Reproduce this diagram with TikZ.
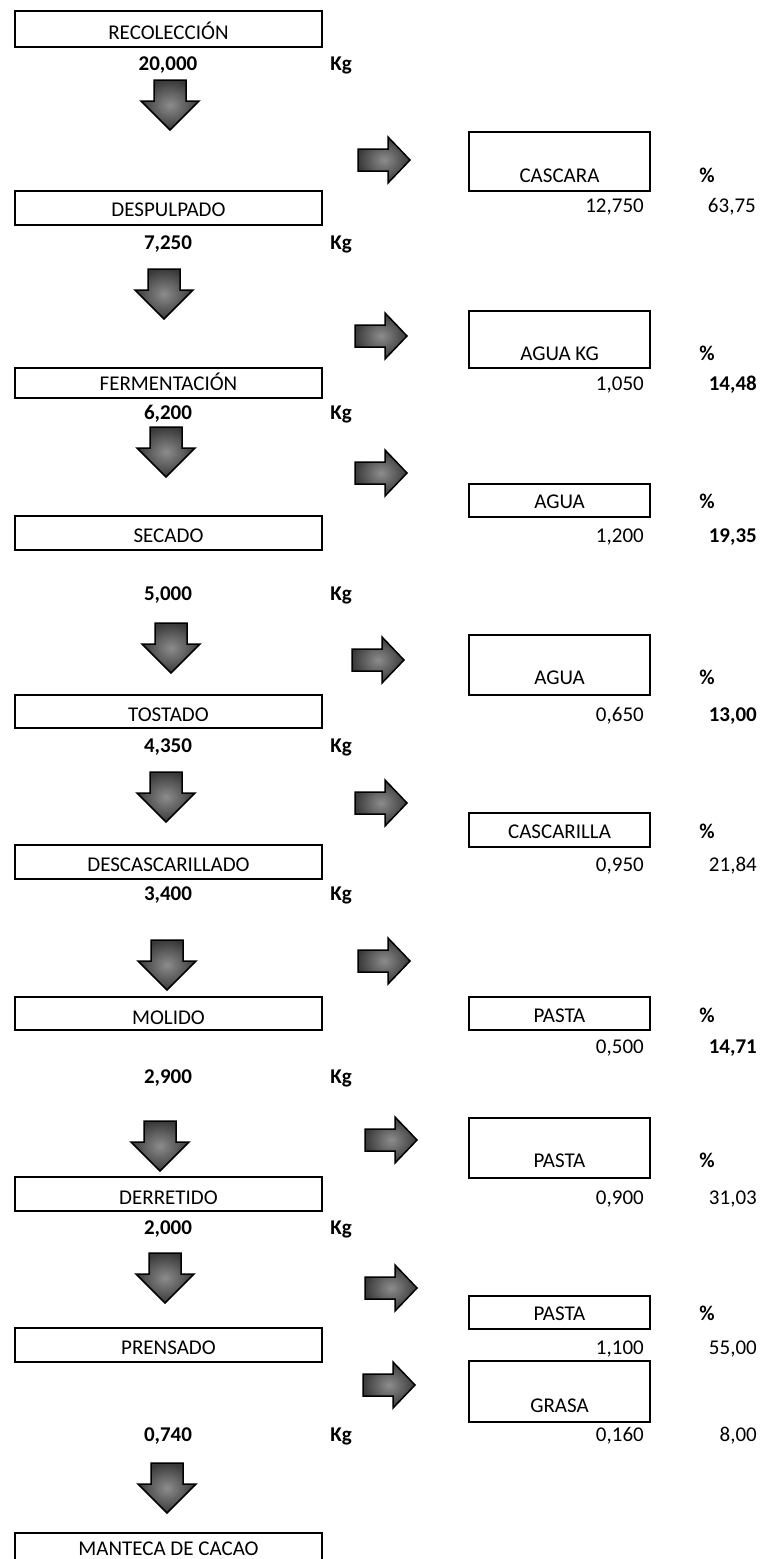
\documentclass[tikz,border=0pt]{standalone}
\usepackage{fontspec}
\setmainfont{Carlito}
\tikzset{
  stage/.style={draw=black, line width=1.6pt, inner sep=0pt, outer sep=0pt, minimum width=307pt},
  outbox/.style={draw=black, line width=1.6pt, inner sep=0pt, outer sep=0pt, minimum width=181pt},
  lbl/.style={anchor=base, inner sep=0pt, font=\fontsize{21}{25}\selectfont},
  blbl/.style={lbl, font=\fontsize{21}{25}\selectfont\bfseries},
  num/.style={anchor=base east, inner sep=0pt, font=\fontsize{21}{25}\selectfont},
  bnum/.style={num, font=\fontsize{21}{25}\selectfont\bfseries},
  blockarrow/.style={draw=black, line width=1.5pt, line join=miter, shading=radial,
                     inner color=gray!90, outer color=gray!45!black}
}
% block arrow pointing down: centre x, top y
\newcommand\downblock[2]{%
  \path[blockarrow] (#1-16,#2) -- (#1+16,#2) -- (#1+16,#2+21) -- (#1+29,#2+21)
    -- (#1,#2+50) -- (#1-29,#2+21) -- (#1-16,#2+21) -- cycle;}
% block arrow pointing right: left x, centre y
\newcommand\rightblock[2]{%
  \path[blockarrow] (#1,#2-11) -- (#1+30,#2-11) -- (#1+30,#2-23) -- (#1+52,#2)
    -- (#1+30,#2+23) -- (#1+30,#2+11) -- (#1,#2+11) -- cycle;}
\begin{document}
\begin{tikzpicture}[x=1pt, y=-1pt]
\useasboundingbox (0,0) rectangle (760,1559);

% ---- process stages (left column) ----
\node[stage, minimum height=36pt] (recol) at (168.5,29) {};
\node[lbl] (trecol) at (168.5,39) {RECOLECCIÓN};
\node[stage, minimum height=34pt] (despul) at (168.5,208) {};
\node[lbl] (tdespul) at (168.5,216) {DESPULPADO};
\node[stage, minimum height=30pt] (ferm) at (168.5,383) {};
\node[lbl] (tferm) at (168.5,390) {FERMENTACIÓN};
\node[stage, minimum height=34pt] (secado) at (168.5,533) {};
\node[lbl] (tsecado) at (168.5,542) {SECADO};
\node[stage, minimum height=33pt] (tostado) at (168.5,711.5) {};
\node[lbl] (ttostado) at (168.5,721) {TOSTADO};
\node[stage, minimum height=34pt] (descas) at (168.5,862) {};
\node[lbl] (tdescas) at (168.5,871) {DESCASCARILLADO};
\node[stage, minimum height=33pt] (molido) at (168.5,1013.5) {};
\node[lbl] (tmolido) at (168.5,1024) {MOLIDO};
\node[stage, minimum height=34pt] (derret) at (168.5,1194) {};
\node[lbl] (tderret) at (168.5,1204) {DERRETIDO};
\node[stage, minimum height=34pt] (prens) at (168.5,1345) {};
\node[lbl] (tprens) at (168.5,1354) {PRENSADO};
\node[stage, minimum height=40pt] (mantec) at (168.5,1553) {};
\node[lbl] (tmantec) at (168.5,1555) {MANTECA DE CACAO};

% ---- masses after each stage ----
\foreach \v/\y [count=\i] in {20{,}000/70, 7{,}250/249, 6{,}200/419, 5{,}000/600,
    4{,}350/752, 3{,}400/900, 2{,}900/1083, 2{,}000/1234, 0{,}740/1441} {
  \node[blbl] (m\i) at (168,\y) {\v};
  \node[blbl] (kg\i) at (341,\y) {Kg};
}

% ---- down arrows ----
\downblock{170}{80}
\downblock{164}{269}
\downblock{166}{427}
\downblock{171}{623}
\downblock{166}{772}
\downblock{167}{940}
\downblock{160}{1121}
\downblock{165}{1253}
\downblock{167}{1463}

% ---- right arrows ----
\rightblock{358}{160}
\rightblock{355}{336}
\rightblock{355}{473}
\rightblock{352}{660}
\rightblock{355}{803}
\rightblock{358}{961}
\rightblock{365}{1140}
\rightblock{365}{1288}
\rightblock{363}{1385}

% ---- outputs (right column) ----
\node[outbox, minimum height=59pt] (cascara) at (559.5,161.5) {};
\node[lbl] (tcascara) at (559.5,182) {CASCARA};
\node[outbox, minimum height=57pt] (agua1) at (559.5,339.5) {};
\node[lbl] (tagua1) at (559.5,360) {AGUA KG};
\node[outbox, minimum height=33pt] (agua2) at (559.5,500.5) {};
\node[lbl] (tagua2) at (559.5,508) {AGUA};
\node[outbox, minimum height=60pt] (agua3) at (559.5,665) {};
\node[lbl] (tagua3) at (559.5,684) {AGUA};
\node[outbox, minimum height=34pt] (cascar) at (559.5,830) {};
\node[lbl] (tcascar) at (559.5,838) {CASCARILLA};
\node[outbox, minimum height=33pt] (pasta1) at (559.5,1013.5) {};
\node[lbl] (tpasta1) at (559.5,1022) {PASTA};
\node[outbox, minimum height=60pt] (pasta2) at (559.5,1148) {};
\node[lbl] (tpasta2) at (559.5,1167) {PASTA};
\node[outbox, minimum height=33pt] (pasta3) at (559.5,1312.5) {};
\node[lbl] (tpasta3) at (559.5,1320) {PASTA};
\node[outbox, minimum height=61pt] (grasa) at (559.5,1391.5) {};
\node[lbl] (tgrasa) at (559.5,1412) {GRASA};

% ---- percent headers ----
\foreach \y [count=\i] in {182, 360, 508, 684, 838, 1022, 1167, 1320} {
  \node[blbl] (pc\i) at (707,\y) {\%};
}

% ---- output masses and percentages ----
\node[num] (o1) at (644,212) {12,750};
\node[num] (p1) at (756,212) {63,75};
\node[num] (o2) at (644,390) {1,050};
\node[bnum] (p2) at (757,390) {14,48};
\node[num] (o3) at (644,542) {1,200};
\node[bnum] (p3) at (757,542) {19,35};
\node[num] (o4) at (644,721) {0,650};
\node[bnum] (p4) at (757,721) {13,00};
\node[num] (o5) at (644,871) {0,950};
\node[num] (p5) at (757,871) {21,84};
\node[num] (o6) at (644,1053) {0,500};
\node[bnum] (p6) at (757,1053) {14,71};
\node[num] (o7) at (644,1204) {0,900};
\node[num] (p7) at (757,1204) {31,03};
\node[num] (o8) at (644,1354) {1,100};
\node[num] (p8) at (757,1354) {55,00};
\node[num] (o9) at (644,1441) {0,160};
\node[num] (p9) at (757,1441) {8,00};
\end{tikzpicture}
\end{document}
